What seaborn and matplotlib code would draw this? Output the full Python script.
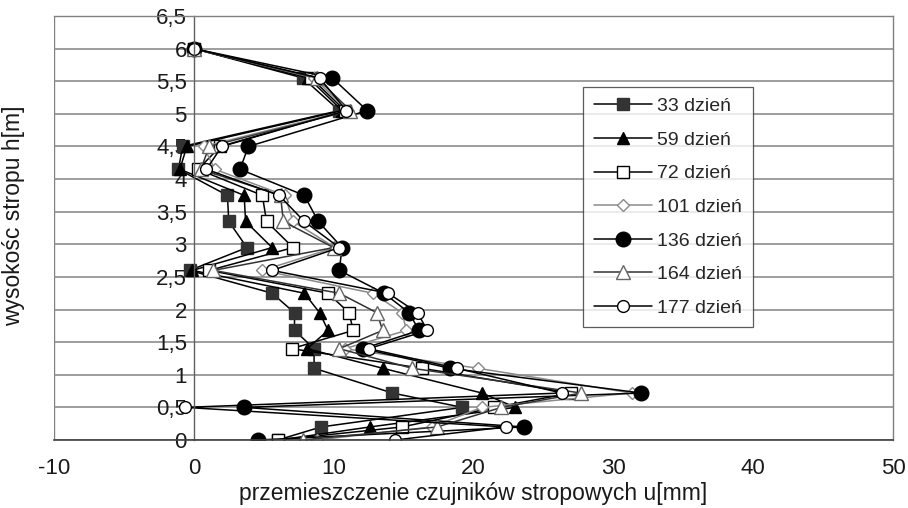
import matplotlib
matplotlib.use("Agg")
import matplotlib.pyplot as plt
import seaborn as sns
import pandas as pd
from matplotlib.ticker import FuncFormatter, MultipleLocator

heights = [0, 0.2, 0.5, 0.72, 1.1, 1.4, 1.68, 1.95, 2.25, 2.6, 2.95, 3.35, 3.75, 4.15, 4.5, 5.05, 5.55, 6.0]

d33 = [6.0, 9.1, 19.2, 14.2, 8.6, 8.6, 7.2, 7.2, 5.6, -0.3, 3.8, 2.5, 2.4, -1.1, -0.8, 10.4, 7.8, 0]
d59 = [6.1, 12.6, 23.0, 20.6, 13.5, 8.1, 9.6, 9.0, 7.9, -0.1, 5.6, 3.7, 3.6, -1.0, -0.5, 10.6, 8.2, 0]
d72 = [6.0, 14.9, 21.5, 27.0, 16.3, 7.0, 11.4, 11.1, 9.6, 1.1, 7.1, 5.2, 4.9, 0.3, 1.9, 10.8, 8.4, 0]
d101 = [8.8, 17.0, 20.6, 31.3, 20.3, 10.8, 15.2, 14.9, 12.8, 4.9, 10.1, 7.1, 6.5, 1.5, 0.7, 11.0, 8.6, 0]
d136 = [4.6, 23.6, 3.6, 32.0, 18.3, 12.1, 16.1, 15.4, 13.6, 10.4, 10.6, 8.9, 7.9, 3.3, 3.9, 12.4, 9.9, 0]
d164 = [7.8, 17.4, 22.0, 27.7, 15.6, 10.4, 13.5, 13.1, 10.4, 1.4, 10.0, 6.4, 6.2, 0.5, 1.1, 11.2, 8.8, 0]
d177 = [14.4, 22.3, -0.6, 26.3, 18.8, 12.5, 16.7, 16.0, 13.9, 5.6, 10.4, 7.9, 6.1, 0.9, 2.0, 10.9, 9.0, 0]

series_names = ["33 dzień", "59 dzień", "72 dzień", "101 dzień", "136 dzień", "164 dzień", "177 dzień"]
series_values = [d33, d59, d72, d101, d136, d164, d177]

styles = {
    "33 dzień": dict(color="black", marker="s", mfc="#333333", mec="#333333", ms=8.5),
    "59 dzień": dict(color="black", marker="^", mfc="black", mec="black", ms=9),
    "72 dzień": dict(color="black", marker="s", mfc="white", mec="black", ms=8.5),
    "101 dzień": dict(color="#8a8a8a", marker="D", mfc="white", mec="#8a8a8a", ms=6.5),
    "136 dzień": dict(color="black", marker="o", mfc="black", mec="black", ms=10.5),
    "164 dzień": dict(color="#333333", marker="^", mfc="white", mec="#666666", ms=9.5),
    "177 dzień": dict(color="black", marker="o", mfc="white", mec="black", ms=8.5),
}

sns.set_style("white")
plt.rcParams["font.family"] = ["Liberation Sans", "DejaVu Sans"]

fig = plt.figure(figsize=(9.08, 5.08), dpi=100)
ax = fig.add_axes([54 / 908, 1 - 440 / 508, (893 - 54) / 908, (440 - 16) / 508])

for name, vals in zip(series_names, series_values):
    st = styles[name]
    df = pd.DataFrame({"u": vals, "h": heights})
    sns.lineplot(data=df, x="u", y="h", orient="y", estimator=None, sort=False,
                 ax=ax, color=st["color"], marker=st["marker"],
                 markerfacecolor=st["mfc"], markeredgecolor=st["mec"],
                 markersize=st["ms"], markeredgewidth=1.0, linewidth=1.1,
                 label=name)

ax.set_xlim(-10, 50)
ax.set_ylim(0, 6.5)
ax.xaxis.set_major_locator(MultipleLocator(10))
ax.yaxis.set_major_locator(MultipleLocator(0.5))
fmt = FuncFormatter(lambda v, p: ("%g" % v).replace(".", ","))
ax.xaxis.set_major_formatter(fmt)
ax.yaxis.set_major_formatter(fmt)

ax.grid(axis="y", color="#8c8c8c", linewidth=1.2)
ax.grid(axis="x", visible=False)
ax.set_axisbelow(True)

for s in ["top", "right"]:
    ax.spines[s].set_color("#808080")
    ax.spines[s].set_linewidth(1.0)
ax.spines["bottom"].set_color("#404040")
ax.spines["bottom"].set_linewidth(1.2)
ax.spines["left"].set_position(("data", 0))
ax.spines["left"].set_color("#606060")
ax.spines["left"].set_linewidth(1.0)
ax.axvline(-10, color="#808080", linewidth=1.0, zorder=0.5)

ax.tick_params(axis="both", direction="out", length=5, width=1, color="#404040",
               labelsize=16, labelcolor="#1a1a1a")
ax.tick_params(axis="y", pad=0)
ax.tick_params(axis="x", pad=8)

ax.set_xlabel("przemieszczenie czujników stropowych u[mm]", fontsize=16.5, color="#1a1a1a")
ax.set_ylabel("wysokośc stropu h[m]", fontsize=16.5, color="#1a1a1a")
ax.xaxis.set_label_coords(0.5, -0.1)
ax.yaxis.set_label_coords(-0.034, 0.53)

leg = ax.legend(loc="upper left", bbox_to_anchor=(583 / 908, 1 - 87 / 508),
                bbox_transform=fig.transFigure, frameon=True, fancybox=False,
                edgecolor="#333333", fontsize=14, handlelength=3.0,
                labelspacing=0.82, borderpad=0.55, handletextpad=0.25,
                borderaxespad=0)
leg.get_frame().set_linewidth(0.9)

fig.savefig("out.png", dpi=100, facecolor="white")
